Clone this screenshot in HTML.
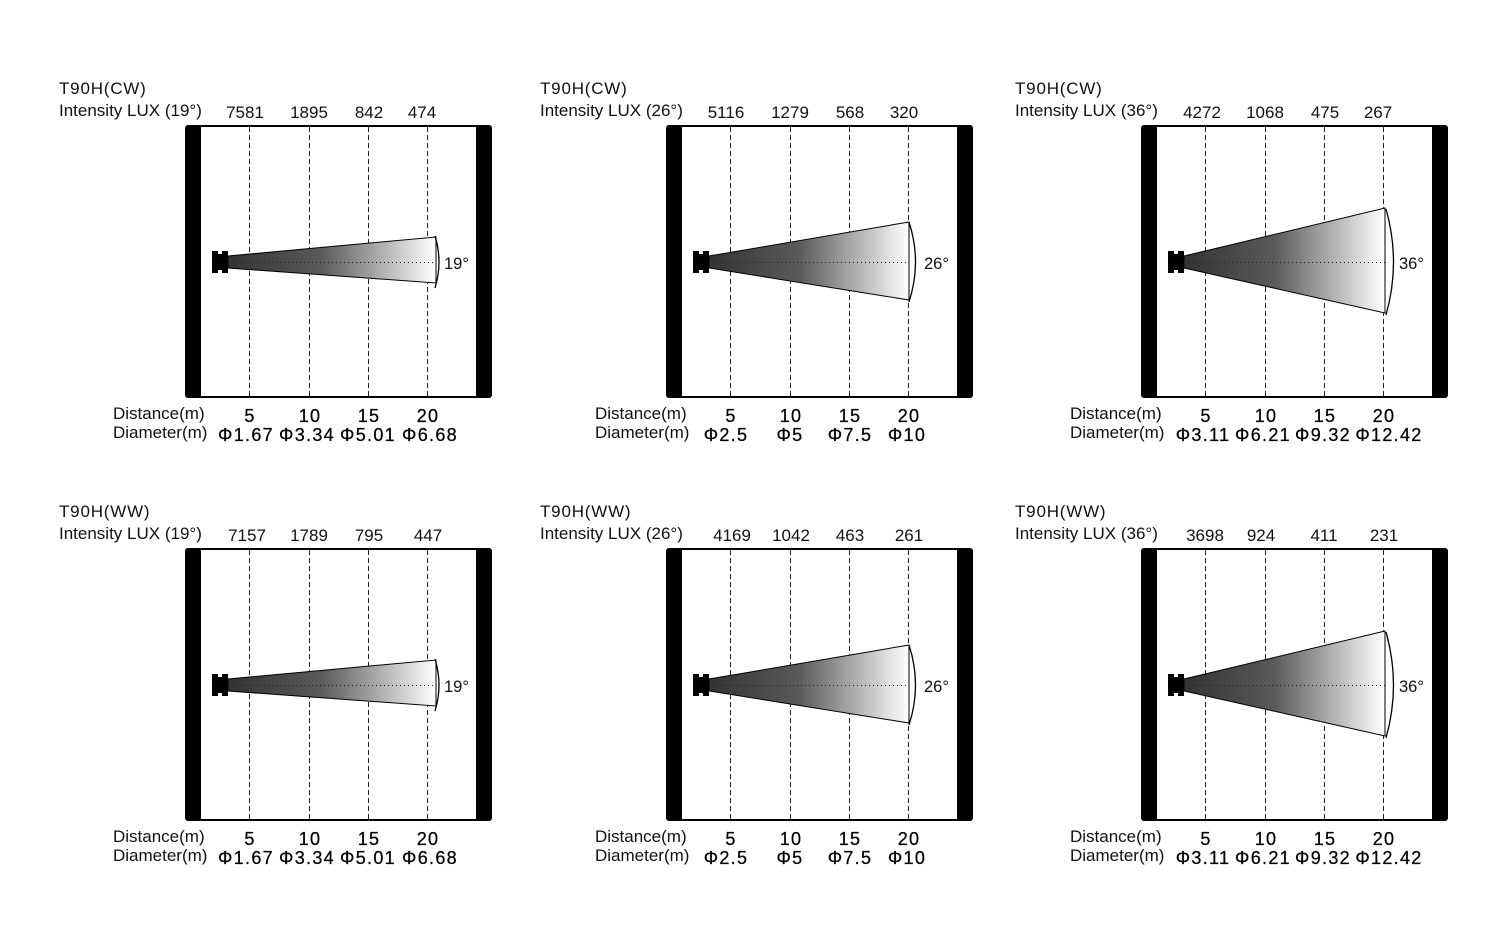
<!DOCTYPE html>
<html><head><meta charset="utf-8"><style>
html,body{margin:0;padding:0;background:#fff;}
svg{display:block;font-family:"Liberation Sans",Arial,sans-serif;}
.t{font-size:17px;fill:#111;}
.tt{font-size:17px;fill:#111;letter-spacing:0.8px;}
.n{font-size:17px;fill:#111;text-anchor:middle;}
.b{font-size:18px;fill:#000;text-anchor:middle;letter-spacing:1.3px;stroke:#000;stroke-width:0.25;}
.l{font-size:17px;fill:#111;}
.a{font-size:16.5px;fill:#111;}
</style></head><body>
<svg width="1508" height="946" viewBox="0 0 1508 946" xmlns="http://www.w3.org/2000/svg">
<defs>
<linearGradient id="g" x1="0" x2="1" y1="0" y2="0">
<stop offset="0" stop-color="#333"/><stop offset="0.45" stop-color="#5a5a5a"/><stop offset="1" stop-color="#fff"/>
</linearGradient>
<g id="frame">
<rect x="1" y="1" width="305" height="271" rx="4" fill="#fff" stroke="#000" stroke-width="2"/>
<rect x="0" y="0" width="16" height="273" rx="3" fill="#000"/>
<rect x="291" y="0" width="16" height="273" rx="3" fill="#000"/>
<g stroke="#222" stroke-width="1" stroke-dasharray="5,3">
<line x1="64.5" y1="2" x2="64.5" y2="271"/><line x1="124.5" y1="2" x2="124.5" y2="271"/>
<line x1="183.5" y1="2" x2="183.5" y2="271"/><line x1="242.5" y1="2" x2="242.5" y2="271"/>
</g>
</g>
<path id="src" d="M27 126 H33 V129 H37 V126 H43 V148 H37 V145 H33 V148 H27 Z" fill="#000"/>
</defs>

<g transform="translate(185,125)">
<use href="#frame"/>
<polygon points="43,131 251,112 251,158 43,143" fill="url(#g)" stroke="#000" stroke-width="1"/>
<line x1="43" y1="137.5" x2="251" y2="137.5" stroke="#222" stroke-dasharray="1,3"/>
<path d="M250,111 Q258,137 250,163" fill="none" stroke="#000" stroke-width="1.3"/>
<use href="#src"/>
<text class="a" x="259" y="144">19°</text>
</g>
<g transform="translate(666,125)">
<use href="#frame"/>
<polygon points="43,131 243,97 243,175 43,143" fill="url(#g)" stroke="#000" stroke-width="1"/>
<line x1="43" y1="137.5" x2="243" y2="137.5" stroke="#222" stroke-dasharray="1,3"/>
<path d="M243,97 Q256,137 243,177" fill="none" stroke="#000" stroke-width="1.3"/>
<use href="#src"/>
<text class="a" x="258" y="144">26°</text>
</g>
<g transform="translate(1141,125)">
<use href="#frame"/>
<polygon points="43,131 244,83 244,188 43,143" fill="url(#g)" stroke="#000" stroke-width="1"/>
<line x1="43" y1="137.5" x2="244" y2="137.5" stroke="#222" stroke-dasharray="1,3"/>
<path d="M245,84 Q260,137 245,190" fill="none" stroke="#000" stroke-width="1.3"/>
<use href="#src"/>
<text class="a" x="258" y="144">36°</text>
</g>
<g transform="translate(185,548)">
<use href="#frame"/>
<polygon points="43,131 251,112 251,158 43,143" fill="url(#g)" stroke="#000" stroke-width="1"/>
<line x1="43" y1="137.5" x2="251" y2="137.5" stroke="#222" stroke-dasharray="1,3"/>
<path d="M250,111 Q258,137 250,163" fill="none" stroke="#000" stroke-width="1.3"/>
<use href="#src"/>
<text class="a" x="259" y="144">19°</text>
</g>
<g transform="translate(666,548)">
<use href="#frame"/>
<polygon points="43,131 243,97 243,175 43,143" fill="url(#g)" stroke="#000" stroke-width="1"/>
<line x1="43" y1="137.5" x2="243" y2="137.5" stroke="#222" stroke-dasharray="1,3"/>
<path d="M243,97 Q256,137 243,177" fill="none" stroke="#000" stroke-width="1.3"/>
<use href="#src"/>
<text class="a" x="258" y="144">26°</text>
</g>
<g transform="translate(1141,548)">
<use href="#frame"/>
<polygon points="43,131 244,83 244,188 43,143" fill="url(#g)" stroke="#000" stroke-width="1"/>
<line x1="43" y1="137.5" x2="244" y2="137.5" stroke="#222" stroke-dasharray="1,3"/>
<path d="M245,84 Q260,137 245,190" fill="none" stroke="#000" stroke-width="1.3"/>
<use href="#src"/>
<text class="a" x="258" y="144">36°</text>
</g>

<g transform="translate(185,125)">
<text class="tt" x="-126" y="-31">T90H(CW)</text>
<text class="t" x="-126" y="-9">Intensity LUX (19°)</text>
<text class="n" x="60" y="-7">7581</text><text class="n" x="124" y="-7">1895</text><text class="n" x="184" y="-7">842</text><text class="n" x="237" y="-7">474</text>
<text class="l" x="-72" y="294">Distance(m)</text>
<text class="l" x="-72" y="313">Diameter(m)</text>
<text class="b" x="65" y="297">5</text><text class="b" x="125" y="297">10</text><text class="b" x="184" y="297">15</text><text class="b" x="243" y="297">20</text>
<text class="b" x="61" y="316">Φ1.67</text><text class="b" x="122" y="316">Φ3.34</text><text class="b" x="183" y="316">Φ5.01</text><text class="b" x="245" y="316">Φ6.68</text>
</g>
<g transform="translate(666,125)">
<text class="tt" x="-126" y="-31">T90H(CW)</text>
<text class="t" x="-126" y="-9">Intensity LUX (26°)</text>
<text class="n" x="60" y="-7">5116</text><text class="n" x="124" y="-7">1279</text><text class="n" x="184" y="-7">568</text><text class="n" x="238" y="-7">320</text>
<text class="l" x="-71" y="294">Distance(m)</text>
<text class="l" x="-71" y="313">Diameter(m)</text>
<text class="b" x="65" y="297">5</text><text class="b" x="125" y="297">10</text><text class="b" x="184" y="297">15</text><text class="b" x="243" y="297">20</text>
<text class="b" x="60" y="316">Φ2.5</text><text class="b" x="124" y="316">Φ5</text><text class="b" x="184" y="316">Φ7.5</text><text class="b" x="241" y="316">Φ10</text>
</g>
<g transform="translate(1141,125)">
<text class="tt" x="-126" y="-31">T90H(CW)</text>
<text class="t" x="-126" y="-9">Intensity LUX (36°)</text>
<text class="n" x="61" y="-7">4272</text><text class="n" x="124" y="-7">1068</text><text class="n" x="184" y="-7">475</text><text class="n" x="237" y="-7">267</text>
<text class="l" x="-71" y="294">Distance(m)</text>
<text class="l" x="-71" y="313">Diameter(m)</text>
<text class="b" x="65" y="297">5</text><text class="b" x="125" y="297">10</text><text class="b" x="184" y="297">15</text><text class="b" x="243" y="297">20</text>
<text class="b" x="62" y="316">Φ3.11</text><text class="b" x="122" y="316">Φ6.21</text><text class="b" x="182" y="316">Φ9.32</text><text class="b" x="248" y="316">Φ12.42</text>
</g>

<g transform="translate(185,548)">
<text class="tt" x="-126" y="-31">T90H(WW)</text>
<text class="t" x="-126" y="-9">Intensity LUX (19°)</text>
<text class="n" x="62" y="-7">7157</text><text class="n" x="124" y="-7">1789</text><text class="n" x="184" y="-7">795</text><text class="n" x="243" y="-7">447</text>
<text class="l" x="-72" y="294">Distance(m)</text>
<text class="l" x="-72" y="313">Diameter(m)</text>
<text class="b" x="65" y="297">5</text><text class="b" x="125" y="297">10</text><text class="b" x="184" y="297">15</text><text class="b" x="243" y="297">20</text>
<text class="b" x="61" y="316">Φ1.67</text><text class="b" x="122" y="316">Φ3.34</text><text class="b" x="183" y="316">Φ5.01</text><text class="b" x="245" y="316">Φ6.68</text>
</g>
<g transform="translate(666,548)">
<text class="tt" x="-126" y="-31">T90H(WW)</text>
<text class="t" x="-126" y="-9">Intensity LUX (26°)</text>
<text class="n" x="66" y="-7">4169</text><text class="n" x="125" y="-7">1042</text><text class="n" x="184" y="-7">463</text><text class="n" x="243" y="-7">261</text>
<text class="l" x="-71" y="294">Distance(m)</text>
<text class="l" x="-71" y="313">Diameter(m)</text>
<text class="b" x="65" y="297">5</text><text class="b" x="125" y="297">10</text><text class="b" x="184" y="297">15</text><text class="b" x="243" y="297">20</text>
<text class="b" x="60" y="316">Φ2.5</text><text class="b" x="124" y="316">Φ5</text><text class="b" x="184" y="316">Φ7.5</text><text class="b" x="241" y="316">Φ10</text>
</g>
<g transform="translate(1141,548)">
<text class="tt" x="-126" y="-31">T90H(WW)</text>
<text class="t" x="-126" y="-9">Intensity LUX (36°)</text>
<text class="n" x="64" y="-7">3698</text><text class="n" x="120" y="-7">924</text><text class="n" x="183" y="-7">411</text><text class="n" x="243" y="-7">231</text>
<text class="l" x="-71" y="294">Distance(m)</text>
<text class="l" x="-71" y="313">Diameter(m)</text>
<text class="b" x="65" y="297">5</text><text class="b" x="125" y="297">10</text><text class="b" x="184" y="297">15</text><text class="b" x="243" y="297">20</text>
<text class="b" x="62" y="316">Φ3.11</text><text class="b" x="122" y="316">Φ6.21</text><text class="b" x="182" y="316">Φ9.32</text><text class="b" x="248" y="316">Φ12.42</text>
</g>
</svg>
</body></html>
